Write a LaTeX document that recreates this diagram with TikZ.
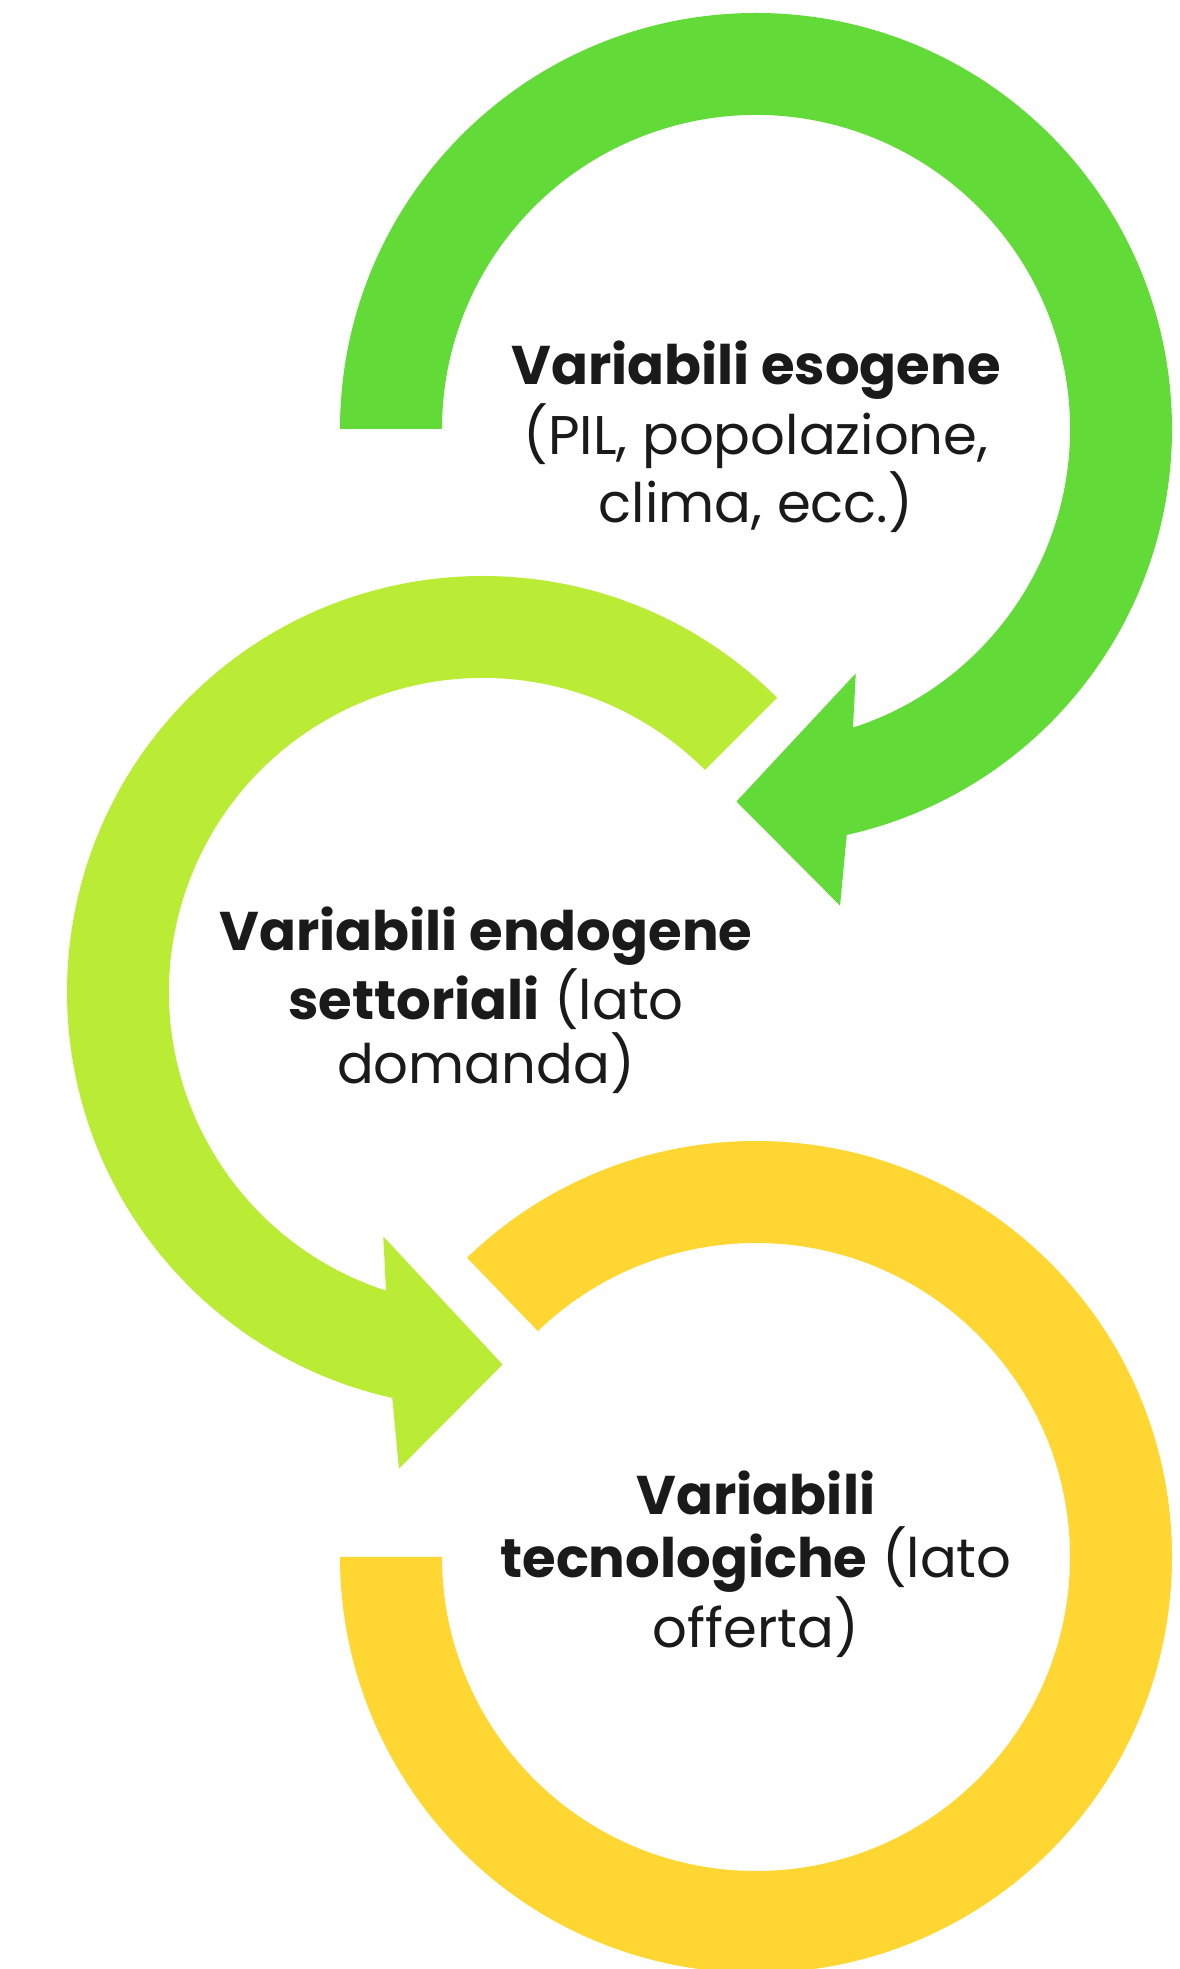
\documentclass[tikz,border=0pt]{standalone}
\usepackage{fontspec}
\setmainfont{Poppins}
\definecolor{ringGreen}{HTML}{62DA38}
\definecolor{ringLime}{HTML}{BBEC35}
\definecolor{ringYellow}{HTML}{FFD632}
\definecolor{inkBlack}{HTML}{1A1A1A}

\begin{document}
\begin{tikzpicture}[x=0.1mm,y=0.1mm]
  \tikzset{
    ringtext/.style={font=\fontsize{15.5}{18}\selectfont,align=center,text=inkBlack,inner sep=0pt}
  }
  \useasboundingbox (0,0) rectangle (1180,1969);
  \coordinate (exoC) at (756,1540);
  \coordinate (endoC) at (483,977);
  \coordinate (techC) at (756,412);

  % exogenous ring, arrow into the middle ring
  \fill[ringGreen,shift={(exoC)}] (180:314) -- (180:416)
    arc[start angle=180,end angle=-77.4,radius=416]
    -- (-80:484) -- (-93:373) -- (-67.8:264) -- (-72:314)
    arc[start angle=-72,end angle=180,radius=314] -- cycle;

  % endogenous ring, arrow into the bottom ring
  \fill[ringLime,shift={(endoC)}] (45:314) -- (45:416)
    arc[start angle=45,end angle=257.4,radius=416]
    -- (-100:484) -- (-87:373) -- (-112.2:264) -- (252:314)
    arc[start angle=252,end angle=45,radius=314] -- cycle;

  % technology ring
  \fill[ringYellow,shift={(techC)}] (134:314) -- (134:416)
    arc[start angle=134,end angle=-180,radius=416]
    -- (180:314)
    arc[start angle=-180,end angle=134,radius=314] -- cycle;

  \node[ringtext] (exo) at (756,1532)
    {\textbf{Variabili esogene}\\(PIL, popolazione,\\clima, ecc.)};
  \node[ringtext] (endo) at (486,969)
    {\textbf{Variabili endogene}\\\textbf{settoriali} (lato\\domanda)};
  \node[ringtext] (tech) at (756,405)
    {\textbf{Variabili}\\\textbf{tecnologiche} (lato\\offerta)};
\end{tikzpicture}
\end{document}
